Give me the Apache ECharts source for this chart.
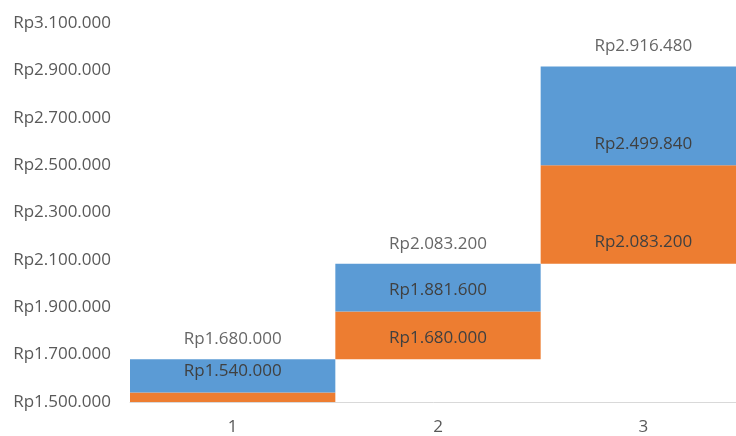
<!DOCTYPE html>
<html>
<head>
<meta charset="utf-8">
<script src="https://cdn.jsdelivr.net/npm/echarts@6/dist/echarts.min.js"></script>
<style>
html,body{margin:0;padding:0;background:#fff;}
#chart{width:736px;height:436px;}
</style>
</head>
<body>
<div id="chart"></div>
<script>
const categories = ['1', '2', '3'];
const startValues = [1400000, 1680000, 2083200];
const midValues = [1540000, 1881600, 2499840];
const endValues = [1680000, 2083200, 2916480];
const yMin = 1500000, yMax = 3100000, yInterval = 200000;

function rp(v) {
  return 'Rp' + Math.round(v).toString().replace(/\B(?=(\d{3})+(?!\d))/g, '.');
}

const FONT = 'Open Sans';
const FS = 17;
const labelStyle = { fontFamily: FONT, fontSize: FS, color: '#404040' };

const chart = echarts.init(document.getElementById('chart'), null, { renderer: 'canvas' });
chart.setOption({
  animation: false,
  backgroundColor: '#ffffff',
  grid: { left: 130, right: -10, top: 23, bottom: 34, containLabel: false, outerBoundsMode: 'none' },
  xAxis: {
    type: 'category',
    data: categories,
    axisLine: { lineStyle: { color: '#d9d9d9', width: 1 } },
    axisTick: { show: false },
    axisLabel: { fontFamily: FONT, fontSize: FS, color: '#595959', margin: 17 }
  },
  yAxis: {
    type: 'value',
    min: yMin, max: yMax, interval: yInterval,
    axisLine: { show: false },
    axisTick: { show: false },
    splitLine: { show: false },
    axisLabel: { fontFamily: FONT, fontSize: FS, color: '#595959', margin: 19, formatter: v => rp(v) }
  },
  series: [
    {
      name: 'base', type: 'bar', stack: 'w', barCategoryGap: 0, barGap: 0,
      itemStyle: { color: 'transparent' },
      data: startValues,
      silent: true
    },
    {
      name: 'orange', type: 'bar', stack: 'w', barCategoryGap: 0,
      itemStyle: { color: '#ED7D31' },
      data: midValues.map((m, i) => ({
        value: m - startValues[i],
        label: { show: startValues[i] >= yMin }
      })),
      label: {
        show: true, position: 'insideBottom', distance: 13, ...labelStyle,
        formatter: p => rp(startValues[p.dataIndex])
      }
    },
    {
      name: 'blue', type: 'bar', stack: 'w', barCategoryGap: 0,
      itemStyle: { color: '#5B9BD5' },
      data: endValues.map((e, i) => e - midValues[i]),
      label: {
        show: true, position: 'insideBottom', distance: 13, ...labelStyle,
        formatter: p => rp(midValues[p.dataIndex])
      }
    },
    {
      name: 'total', type: 'scatter', symbolSize: 1,
      itemStyle: { color: 'rgba(0,0,0,0)' },
      data: endValues,
      label: {
        show: true, position: 'top', distance: 11, ...labelStyle,
        formatter: p => rp(p.value)
      }
    }
  ]
});
</script>
</body>
</html>
